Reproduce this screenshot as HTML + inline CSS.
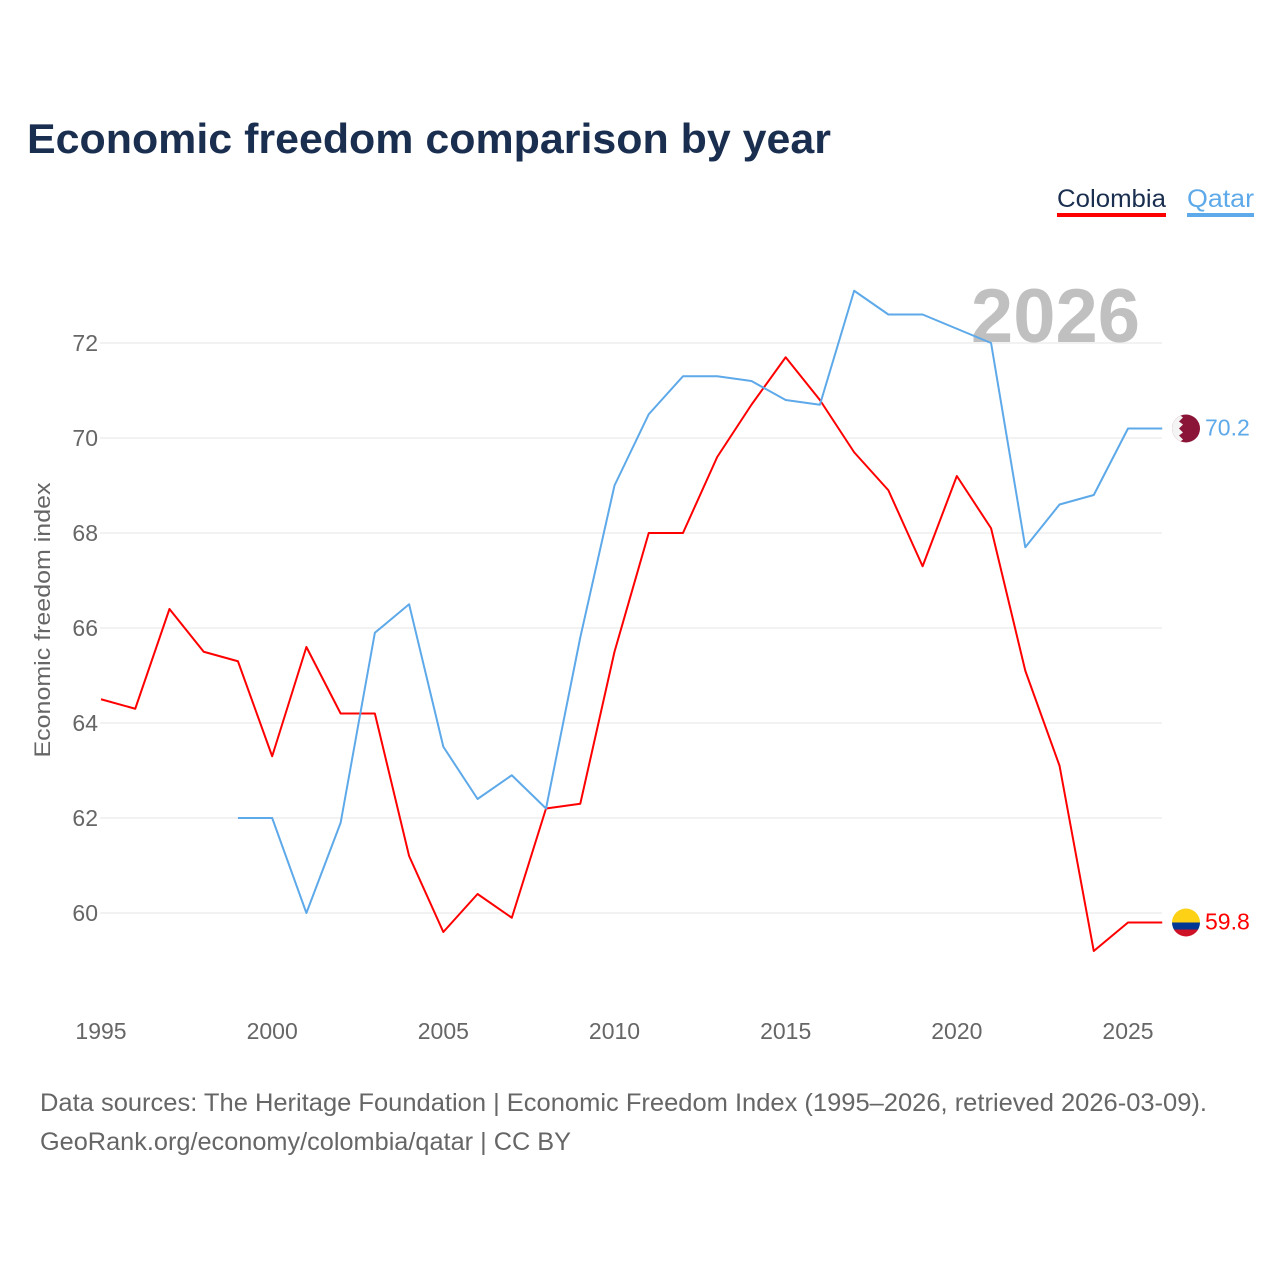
<!DOCTYPE html>
<html><head><meta charset="utf-8"><style>
body{margin:0;background:#fff;font-family:"Liberation Sans",sans-serif}
</style></head><body>
<svg width="1280" height="1280" xmlns="http://www.w3.org/2000/svg" id="chart">
<rect width="1280" height="1280" fill="#fff"/>
<text x="27" y="153" font-size="42" font-weight="bold" fill="#1a2e4f" textLength="804" lengthAdjust="spacingAndGlyphs">Economic freedom comparison by year</text>
<g>
<text x="1057" y="207" font-size="25" fill="#1a2e4f" textLength="109" lengthAdjust="spacingAndGlyphs">Colombia</text>
<rect x="1057" y="213" width="109" height="4" fill="#ff0000"/>
<text x="1187" y="207" font-size="25" fill="#5da9e9" textLength="67" lengthAdjust="spacingAndGlyphs">Qatar</text>
<rect x="1187" y="213" width="67" height="4" fill="#5da9e9"/>
</g>
<text x="1140" y="342" font-size="76" font-weight="bold" fill="#c0c0c0" text-anchor="end">2026</text>
<text transform="translate(50,620) rotate(-90)" font-size="22" fill="#666" text-anchor="middle" textLength="275" lengthAdjust="spacingAndGlyphs">Economic freedom index</text>
<g id="grid"></g><g id="lines"></g>
<text x="40" y="1111" font-size="25" fill="#666" textLength="1167" lengthAdjust="spacingAndGlyphs">Data sources: The Heritage Foundation | Economic Freedom Index (1995–2026, retrieved 2026-03-09).</text>
<text x="40" y="1150" font-size="25" fill="#666" textLength="531" lengthAdjust="spacingAndGlyphs">GeoRank.org/economy/colombia/qatar | CC BY</text>
</svg>
<script>
const years=[1995,1996,1997,1998,1999,2000,2001,2002,2003,2004,2005,2006,2007,2008,2009,2010,2011,2012,2013,2014,2015,2016,2017,2018,2019,2020,2021,2022,2023,2024,2025,2026];
const colombia=[64.5,64.3,66.4,65.5,65.3,63.3,65.6,64.2,64.2,61.2,59.6,60.4,59.9,62.2,62.3,65.5,68.0,68.0,69.6,70.7,71.7,70.8,69.7,68.9,67.3,69.2,68.1,65.1,63.1,59.2,59.8,59.8];
const qatar=[null,null,null,null,62.0,62.0,60.0,61.9,65.9,66.5,63.5,62.4,62.9,62.2,65.8,69.0,70.5,71.3,71.3,71.2,70.8,70.7,73.1,72.6,72.6,72.3,72.0,67.7,68.6,68.8,70.2,70.2];
const yTicks=[60,62,64,66,68,70,72];
const xTicks=[1995,2000,2005,2010,2015,2020,2025];
const NS="http://www.w3.org/2000/svg";
const X=y=>101+(y-1995)*(1128-101)/30;
const Y=v=>913-(v-60)*47.5;
const grid=document.getElementById('grid'),lines=document.getElementById('lines');
function mk(t,a,p){const e=document.createElementNS(NS,t);for(const k in a)e.setAttribute(k,a[k]);p.appendChild(e);return e;}
yTicks.forEach(v=>{
 const l=mk('line',{x1:100,x2:1162,y1:Y(v),y2:Y(v),stroke:'#e6e6e6','stroke-width':1},grid);
 
 
 const t=mk('text',{x:98,y:Y(v)+8,'font-size':23,fill:'#666','text-anchor':'end'},grid);
 t.textContent=v;
 
 
});
xTicks.forEach(v=>{
 const t=mk('text',{x:X(v),y:1039,'font-size':23,fill:'#666','text-anchor':'middle'},grid);
 t.textContent=v;
 
 
});
function series(vals,color,name){
 let d='';let started=false;
 vals.forEach((v,i)=>{if(v==null)return;d+=(started?'L':'M')+X(years[i])+','+Y(v);started=true;});
 const p=mk('path',{d:d,fill:'none',stroke:color,'stroke-width':2,'stroke-linejoin':'round'},lines);
 
 
 const last=vals[vals.length-1];
 const t=mk('text',{x:1205,y:Y(last)+7,'font-size':23,fill:color},lines);
 t.textContent=last.toFixed(1);
 
 
 return Y(last);
}
const yc=series(colombia,'#ff0000','colombia');
const yq=series(qatar,'#5da9e9','qatar');
const defs=mk('defs',{},lines);
const cp1=mk('clipPath',{id:'cc'},defs);
mk('circle',{cx:1186,cy:yc,r:14},cp1);
const cp2=mk('clipPath',{id:'cq'},defs);
mk('circle',{cx:1186,cy:yq,r:14},cp2);
const fc=mk('g',{'clip-path':'url(#cc)'},lines);


mk('rect',{x:1172,y:yc-14,width:28,height:14,fill:'#fcd116'},fc);
mk('rect',{x:1172,y:yc,width:28,height:7,fill:'#003893'},fc);
mk('rect',{x:1172,y:yc+7,width:28,height:7,fill:'#ce1126'},fc);
const fq=mk('g',{'clip-path':'url(#cq)'},lines);


mk('rect',{x:1172,y:yq-14,width:28,height:28,fill:'#8a1538'},fq);
mk('path',{d:`M1172,${yq-14} L1179,${yq-14} L1183,${yq-11} L1179,${yq-7} L1183,${yq-4} L1179,${yq} L1183,${yq+4} L1179,${yq+7} L1183,${yq+11} L1179,${yq+14} L1172,${yq+14} Z`,fill:'#f4f4f4'},fq);
</script>
</body></html>
